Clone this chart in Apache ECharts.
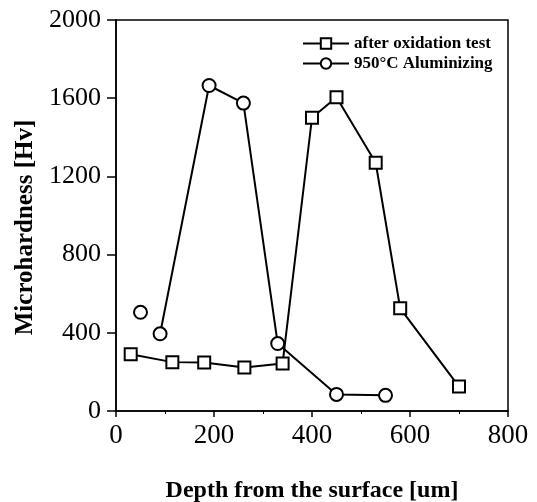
<!DOCTYPE html>
<html><head><meta charset="utf-8">
<script src="https://cdn.jsdelivr.net/npm/echarts@6/dist/echarts.min.js"></script>
<style>html,body{margin:0;padding:0;background:#fff}#c{width:537px;height:502px}</style>
</head><body><div id="c"></div>
<script>
const seriesNames = ['after oxidation test', '950\u00B0C Aluminizing'];
const oxDepth = [30, 115, 180, 262, 340, 400, 450, 530, 580, 700];
const oxHard  = [290, 250, 248, 222, 243, 1500, 1605, 1270, 525, 125];
const alDepth = [90, 190, 260, 330, 450, 550];
const alHard  = [395, 1665, 1575, 345, 85, 80];
const alLoneDepth = [50];
const alLoneHard  = [505];
const xTicks = [0, 200, 400, 600, 800];
const yTicks = [0, 400, 800, 1200, 1600, 2000];

const zip = (a, b) => a.map((v, i) => [v, b[i]]);
const font = 'Liberation Serif, Times New Roman, serif';
const chart = echarts.init(document.getElementById('c'));
chart.setOption({
  animation: false,
  backgroundColor: '#fff',
  grid: { left: 116, right: 29, top: 20, bottom: 91, show: true, borderColor: '#000', borderWidth: 1.5,
          containLabel: false, outerBoundsMode: 'none' },
  legend: {
    data: seriesNames, orient: 'vertical', left: 297, top: 30,
    itemWidth: 46, itemHeight: 13, itemGap: 3,
    textStyle: { fontFamily: font, fontSize: 17, color: '#000', fontWeight: 'bold' }
  },
  xAxis: {
    type: 'value', min: xTicks[0], max: xTicks[xTicks.length - 1], interval: 200,
    name: 'Depth from the surface [um]', nameLocation: 'middle', nameGap: 68,
    nameTextStyle: { fontFamily: font, fontSize: 24, fontWeight: 'bold', color: '#000' },
    axisLine: { lineStyle: { color: '#000', width: 1.5 } },
    axisTick: { inside: false, length: 6, lineStyle: { color: '#000', width: 1.5 } },
    minorTick: { show: true, splitNumber: 2, length: 3, lineStyle: { color: '#000' } },
    axisLabel: { fontFamily: font, fontSize: 27, color: '#000', margin: 11, formatter: v => String(v) },
    splitLine: { show: false }
  },
  yAxis: {
    type: 'value', min: yTicks[0], max: yTicks[yTicks.length - 1], interval: 400,
    name: 'Microhardness [Hv]', nameLocation: 'middle', nameGap: 78,
    nameTextStyle: { fontFamily: font, fontSize: 25, fontWeight: 'bold', color: '#000', padding: [0, 24, 0, 0] },
    axisLine: { lineStyle: { color: '#000', width: 1.5 } },
    axisTick: { inside: false, length: 9, lineStyle: { color: '#000', width: 1.5 } },
    axisLabel: { fontFamily: font, fontSize: 26, color: '#000', margin: 15, formatter: v => String(v) },
    splitLine: { show: false }
  },
  series: [
    { name: seriesNames[0], type: 'line', data: zip(oxDepth, oxHard),
      symbol: 'rect', symbolSize: 12, showAllSymbol: true,
      lineStyle: { color: '#000', width: 2 },
      itemStyle: { color: '#fff', borderColor: '#000', borderWidth: 2 } },
    { name: seriesNames[1], type: 'line', data: zip(alDepth, alHard),
      symbol: 'circle', symbolSize: 13, showAllSymbol: true,
      lineStyle: { color: '#000', width: 2 },
      itemStyle: { color: '#fff', borderColor: '#000', borderWidth: 2 } },
    { name: seriesNames[1] + ' ', type: 'scatter', data: zip(alLoneDepth, alLoneHard),
      symbol: 'circle', symbolSize: 13,
      itemStyle: { color: '#fff', borderColor: '#000', borderWidth: 2, opacity: 1 } }
  ]
});
</script></body></html>
